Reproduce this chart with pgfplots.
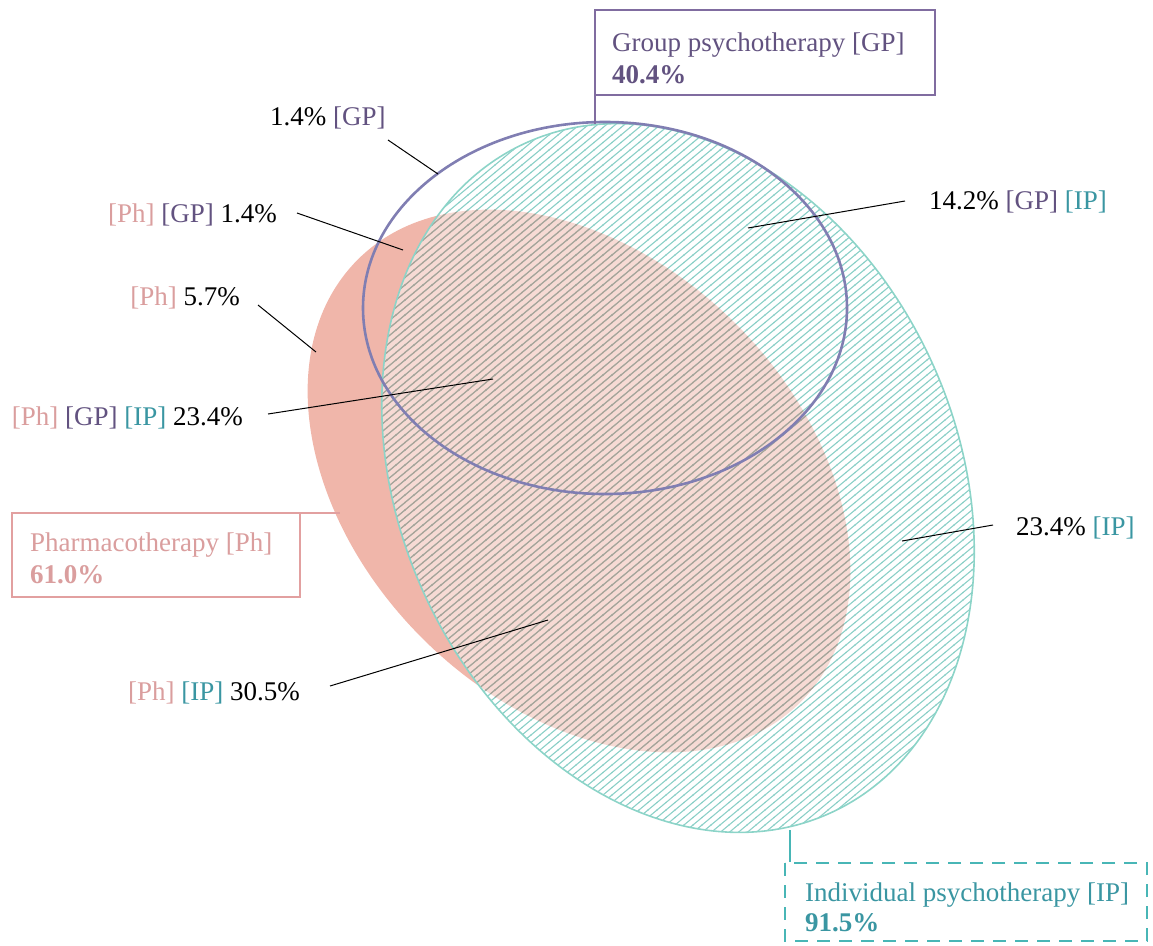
\documentclass[border=0pt]{standalone}
\usepackage{fontspec}
\setmainfont{Liberation Serif}
\usepackage{pgfplots}
\pgfplotsset{compat=1.18}
\usetikzlibrary{patterns}
\definecolor{phfill}{RGB}{240,182,170}
\definecolor{phtext}{RGB}{218,158,158}
\definecolor{phbox}{RGB}{226,160,160}
\definecolor{gptext}{RGB}{98,82,128}
\definecolor{gpbox}{RGB}{128,108,160}
\definecolor{gpline}{RGB}{128,126,178}
\definecolor{iptext}{RGB}{58,150,162}
\definecolor{ipbox}{RGB}{72,182,182}
\definecolor{ipline}{RGB}{140,212,200}
\definecolor{iphatch}{RGB}{140,208,200}
\definecolor{ovhatch}{RGB}{172,160,150}
\pgfdeclarepatternformonly{hatch}{\pgfqpoint{-1pt}{-1pt}}{\pgfqpoint{10pt}{8.5pt}}{\pgfqpoint{9pt}{7.5pt}}{%
  \pgfsetlinewidth{1.1pt}%
  \pgfpathmoveto{\pgfqpoint{-0.5pt}{-0.42pt}}%
  \pgfpathlineto{\pgfqpoint{9.5pt}{7.92pt}}%
  \pgfusepath{stroke}}
\tikzset{lab/.style={font=\fontsize{27}{31}\selectfont, inner sep=0pt},
  ipell/.style={rotate around={-65.5:(axis cs:678,478)}},
  phell/.style={rotate around={-45:(axis cs:579,481)}}}
\newcommand{\IPpath}{(axis cs:678,478) ellipse [x radius=368pt, y radius=279pt]}
\newcommand{\PHpath}{(axis cs:579,481) ellipse [x radius=313pt, y radius=222pt]}
\begin{document}
\fontsize{27}{31}\selectfont
\begin{tikzpicture}
\begin{axis}[
  scale only axis, width=1153pt, height=945pt,
  xmin=0, xmax=1153, ymin=0, ymax=945, y dir=reverse,
  hide axis, clip=false,
]
% Pharmacotherapy
\fill[phfill, phell, overlay] \PHpath;
% Individual psychotherapy
\fill[white, fill opacity=0.5, ipell, overlay] \IPpath;
\fill[pattern=hatch, pattern color=iphatch, ipell, overlay] \IPpath;
\begin{scope}
\clip[ipell, overlay] \IPpath;
\clip[phell, overlay] \PHpath;
\fill[pattern=hatch, pattern color=ovhatch, overlay] (axis cs:0,0) rectangle (axis cs:1153,945);
\end{scope}
\draw[ipline, line width=1.6pt, ipell, overlay] \IPpath;
% Group psychotherapy
\draw[gpline, line width=2.6pt, overlay] (axis cs:605,308) ellipse [x radius=242pt, y radius=186pt];

% leader lines
\addplot[black, line width=1pt, no marks] coordinates {(388,140) (438,174)};
\addplot[black, line width=1pt, no marks] coordinates {(297,213) (403,250)};
\addplot[black, line width=1pt, no marks] coordinates {(258,305) (316,352)};
\addplot[black, line width=1pt, no marks] coordinates {(268,414) (493,379)};
\addplot[black, line width=1pt, no marks] coordinates {(748,228) (905,201)};
\addplot[black, line width=1pt, no marks] coordinates {(902,541) (993,525)};
\addplot[black, line width=1pt, no marks] coordinates {(330,686) (548,620)};
% connectors
\addplot[gpbox, line width=2.5pt, no marks] coordinates {(595,95) (595,124)};
\addplot[ipbox, line width=2.5pt, no marks] coordinates {(790,830) (790,862)};
\addplot[phbox, line width=2.5pt, no marks] coordinates {(12,513) (340,513)};

% boxes
\draw[gpbox, line width=2.8pt, fill=white] (axis cs:595,10) rectangle (axis cs:935,95);
\draw[phbox, line width=2.8pt, fill=white] (axis cs:12,513) rectangle (axis cs:300,597);
\draw[ipbox, line width=2.8pt, dash pattern=on 13pt off 9pt, fill=white] (axis cs:785,863) rectangle (axis cs:1147,941);

\node[lab, anchor=base west, text=gptext] at (axis cs:612,51) {Group psychotherapy [GP]};
\node[lab, anchor=base west, text=gptext] at (axis cs:612,83) {\bfseries 40.4\%};
\node[lab, anchor=base west, text=phtext] at (axis cs:30,551) {Pharmacotherapy [Ph]};
\node[lab, anchor=base west, text=phtext] at (axis cs:30,583) {\bfseries 61.0\%};
\node[lab, anchor=base west, text=iptext] at (axis cs:805,901) {Individual psychotherapy [IP]};
\node[lab, anchor=base west, text=iptext] at (axis cs:805,931) {\bfseries 91.5\%};

% region labels
\node[lab, anchor=base west] at (axis cs:270,125) {1.4\% \textcolor{gptext}{[GP]}};
\node[lab, anchor=base east] at (axis cs:277,222) {\textcolor{phtext}{[Ph]} \textcolor{gptext}{[GP]} 1.4\%};
\node[lab, anchor=base east] at (axis cs:240,305) {\textcolor{phtext}{[Ph]} 5.7\%};
\node[lab, anchor=base east] at (axis cs:243,425) {\textcolor{phtext}{[Ph]} \textcolor{gptext}{[GP]} \textcolor{iptext}{[IP]} 23.4\%};
\node[lab, anchor=base west] at (axis cs:929,209) {14.2\% \textcolor{gptext}{[GP]} \textcolor{iptext}{[IP]}};
\node[lab, anchor=base west] at (axis cs:1016,535) {23.4\% \textcolor{iptext}{[IP]}};
\node[lab, anchor=base east] at (axis cs:300,700) {\textcolor{phtext}{[Ph]} \textcolor{iptext}{[IP]} 30.5\%};

\coordinate (BL) at (axis cs:0,945);
\coordinate (TR) at (axis cs:1153,0);
\end{axis}
\pgfresetboundingbox
\useasboundingbox (BL) rectangle (TR);
\end{tikzpicture}
\end{document}
